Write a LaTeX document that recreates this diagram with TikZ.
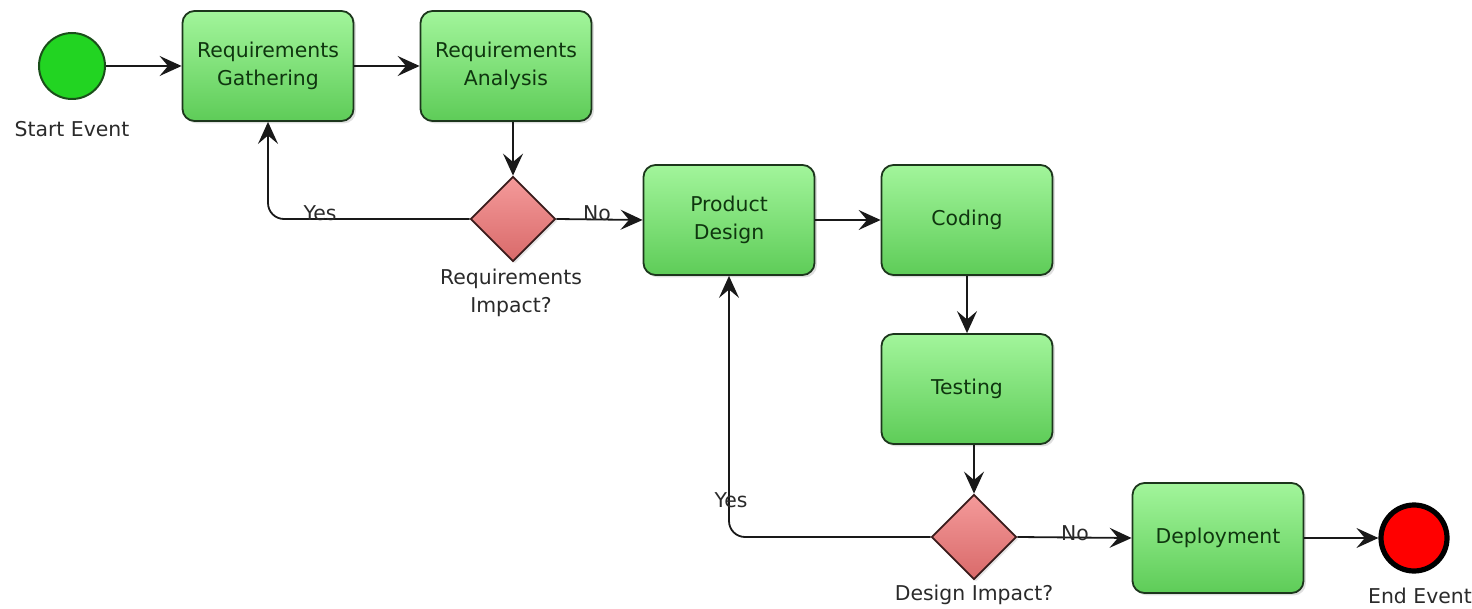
\documentclass[tikz,border=0pt]{standalone}
\usepackage{fontspec}
\setmainfont{DejaVu Sans}
\usetikzlibrary{arrows.meta,shapes.geometric,shadows}
\definecolor{tasktop}{HTML}{A2F59B}
\definecolor{taskbot}{HTML}{5ECC58}
\definecolor{taskborder}{HTML}{1C361C}
\definecolor{tasktext}{HTML}{0F360F}
\definecolor{gatetop}{HTML}{F49A9A}
\definecolor{gatebot}{HTML}{D96A6A}
\definecolor{gateborder}{HTML}{3A1C1C}
\definecolor{startfill}{HTML}{22D422}
\definecolor{startborder}{HTML}{1A4F1A}
\definecolor{labeltext}{HTML}{2A2A2A}
\begin{document}
\begin{tikzpicture}[x=0.5pt,y=-0.5pt,
  every node/.style={font=\fontsize{10.2}{14}\selectfont},
  task/.style={rounded corners=6pt, draw=taskborder, line width=0.9pt,
    top color=tasktop, bottom color=taskbot, minimum width=85.5pt,
    minimum height=55pt, align=center, text=tasktext, inner sep=0pt,
    drop shadow={opacity=0.25, shadow xshift=1.2pt, shadow yshift=-1.2pt}},
  gate/.style={diamond, aspect=1, draw=gateborder, line width=0.9pt,
    top color=gatetop, bottom color=gatebot, minimum size=42.5pt, inner sep=0pt,
    drop shadow={opacity=0.2, shadow xshift=1pt, shadow yshift=-1pt}},
  startev/.style={circle, draw=startborder, line width=1pt, fill=startfill,
    minimum size=33pt, inner sep=0pt},
  endev/.style={circle, draw=black, line width=2.6pt, fill=red,
    minimum size=33pt, inner sep=0pt},
  lbl/.style={text=labeltext, align=center, inner sep=0pt},
  edgelbl/.style={text=labeltext, inner sep=0pt, anchor=base},
  flow/.style={draw=black!90, line width=0.9pt,
    -{Stealth[length=11pt, width=10pt, inset=4.2pt]}}
]
\useasboundingbox (0,0) rectangle (1472,609);

\node[startev] (start) at (72,66) {};
\node[lbl] (startlbl) at (72,129) {Start Event};

\node[task] (rg) at (268,66) {Requirements\\Gathering};
\node[task] (ra) at (506,66) {Requirements\\Analysis};

\node[gate] (d1) at (513,219) {};
\node[lbl, text width=120pt] (d1lbl) at (511,293) {Requirements\\Impact?};

\node[task] (pd) at (729,220) {Product\\Design};
\node[task] (cod) at (967,220) {Coding};
\node[task] (tst) at (967,389) {Testing};

\node[gate] (d2) at (974,537) {};
\node[lbl] (d2lbl) at (974,595) {Design Impact?};

\node[task] (dep) at (1218,538) {Deployment};
\node[endev] (end) at (1414,538) {};
\node[lbl] (endlbl) at (1420,596) {End Event};

\draw[flow] (start) -- (rg);
\draw[flow] (rg) -- (ra);
\draw[flow] (d1 |- ra.south) -- (d1.north);
\draw[flow, rounded corners=8pt] (d1.west) -| (rg.south);
\node[edgelbl] (yes1) at (320,221) {Yes};
\draw[flow] (d1.east) -- (pd.west);
\node[edgelbl] (no1) at (597,221) {No};
\draw[flow] (pd) -- (cod);
\draw[flow] (cod) -- (tst);
\draw[flow] (d2 |- tst.south) -- (d2.north);
\draw[flow, rounded corners=8pt] (d2.west) -| (pd.south);
\node[edgelbl] (yes2) at (731,507) {Yes};
\draw[flow] (d2.east) -- (dep.west);
\node[edgelbl] (no2) at (1075,540) {No};
\draw[flow] (dep) -- (end);
\end{tikzpicture}
\end{document}
